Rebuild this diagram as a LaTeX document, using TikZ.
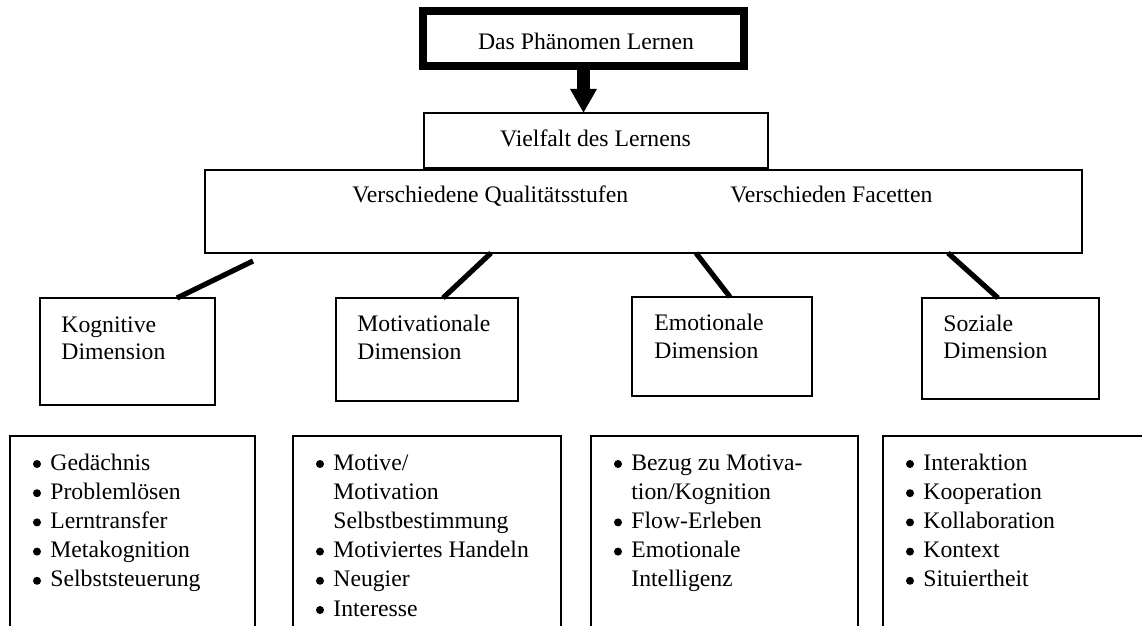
\documentclass[tikz,border=0pt]{standalone}
\usepackage{fontspec}
\setmainfont{Liberation Serif}
\usetikzlibrary{arrows.meta,fit}
\begin{document}
\begin{tikzpicture}[x=0.5pt,y=-0.5pt,
  every node/.style={font=\fontsize{11.85}{14}\selectfont},
  frame/.style={draw, line width=1.2pt, inner sep=0pt, outer sep=0pt},
  topframe/.style={draw, line width=4pt, inner sep=0pt, outer sep=0pt},
  lbox/.style={line width=1.2pt},
  conn/.style={line width=2.6pt},
  txt/.style={anchor=base west, inner sep=0pt},
  ctxt/.style={anchor=base, inner sep=0pt},
  dot/.style={circle, fill, inner sep=0pt, minimum size=4pt}]
\useasboundingbox (0,0) rectangle (1142,626);

% boxes
\node[topframe, fit={(423,11) (744,66)}] (top) {};
\node[frame, fit={(424,113) (768,168)}] (viel) {};
\node[frame, fit={(205,170) (1082,253)}] (big) {};
\node[frame, fit={(40,298) (215,405)}] (kog) {};
\node[frame, fit={(336,298) (518,401)}] (mot) {};
\node[frame, fit={(632,297) (812,396)}] (emo) {};
\node[frame, fit={(922,298) (1099,399)}] (soz) {};

% texts of the upper boxes
\node[ctxt] (ttop) at (586,50) {Das Phänomen Lernen};
\node[ctxt] (tviel) at (595.5,147) {Vielfalt des Lernens};
\node[txt] (tq) at (352,203) {Verschiedene Qualitätsstufen};
\node[txt] (tf) at (730,203) {Verschieden Facetten};

\node[txt] (kog1) at (61,332) {Kognitive};
\node[txt] (kog2) at (61,359) {Dimension};
\node[txt] (mot1) at (357,331) {Motivationale};
\node[txt] (mot2) at (357,359) {Dimension};
\node[txt] (emo1) at (654,330) {Emotionale};
\node[txt] (emo2) at (654,358) {Dimension};
\node[txt] (soz1) at (943,331) {Soziale};
\node[txt] (soz2) at (943,358) {Dimension};

% arrow and connectors
\draw[line width=6.5pt, -{Triangle[length=12pt, width=12.5pt]}] (top.south) -- (top.south |- viel.north);
\coordinate (kstart) at (253,261);
\draw[conn] (kstart) -- (kog.north -| 177,0);
\draw[conn] (big.south -| 491,0) -- (mot.north -| 443,0);
\draw[conn] (big.south -| 696,0) -- (emo.north -| 730,0);
\draw[conn] (big.south -| 948,0) -- (soz.north -| 998,0);

% open list boxes
\draw[lbox] (10,626) |- (255,436) -- (255,626);
\draw[lbox] (293,626) |- (561,436) -- (561,626);
\draw[lbox] (591,626) |- (858,436) -- (858,626);
\draw[lbox] (883,626) |- (1142,436);

% list items: text / 1 when the line starts with a bullet
\foreach \t/\b [count=\i from 0] in {Gedächnis/1, Problemlösen/1, Lerntransfer/1, Metakognition/1, Selbststeuerung/1}{
  \node[txt] (kl\i) at (50,{470+29.2*\i}) {\t};
  \ifnum\b=1 \node[dot] (kb\i) at (37,{464+29.2*\i}) {};\fi}
\foreach \t/\b [count=\i from 0] in {Motive\slash/1, Motivation/0, Selbstbestimmung/0, Motiviertes Handeln/1, Neugier/1, Interesse/1}{
  \node[txt] (ml\i) at (333,{470+29.2*\i}) {\t};
  \ifnum\b=1 \node[dot] (mb\i) at (320,{464+29.2*\i}) {};\fi}
\foreach \t/\b [count=\i from 0] in {Bezug zu Motiva-/1, tion\slash Kognition/0, Flow-Erleben/1, Emotionale/1, Intelligenz/0}{
  \node[txt] (el\i) at (631,{470+29.2*\i}) {\t};
  \ifnum\b=1 \node[dot] (eb\i) at (618,{464+29.2*\i}) {};\fi}
\foreach \t/\b [count=\i from 0] in {Interaktion/1, Kooperation/1, Kollaboration/1, Kontext/1, Situiertheit/1}{
  \node[txt] (sl\i) at (923,{470+29.2*\i}) {\t};
  \ifnum\b=1 \node[dot] (sb\i) at (910,{464+29.2*\i}) {};\fi}
\end{tikzpicture}
\end{document}
